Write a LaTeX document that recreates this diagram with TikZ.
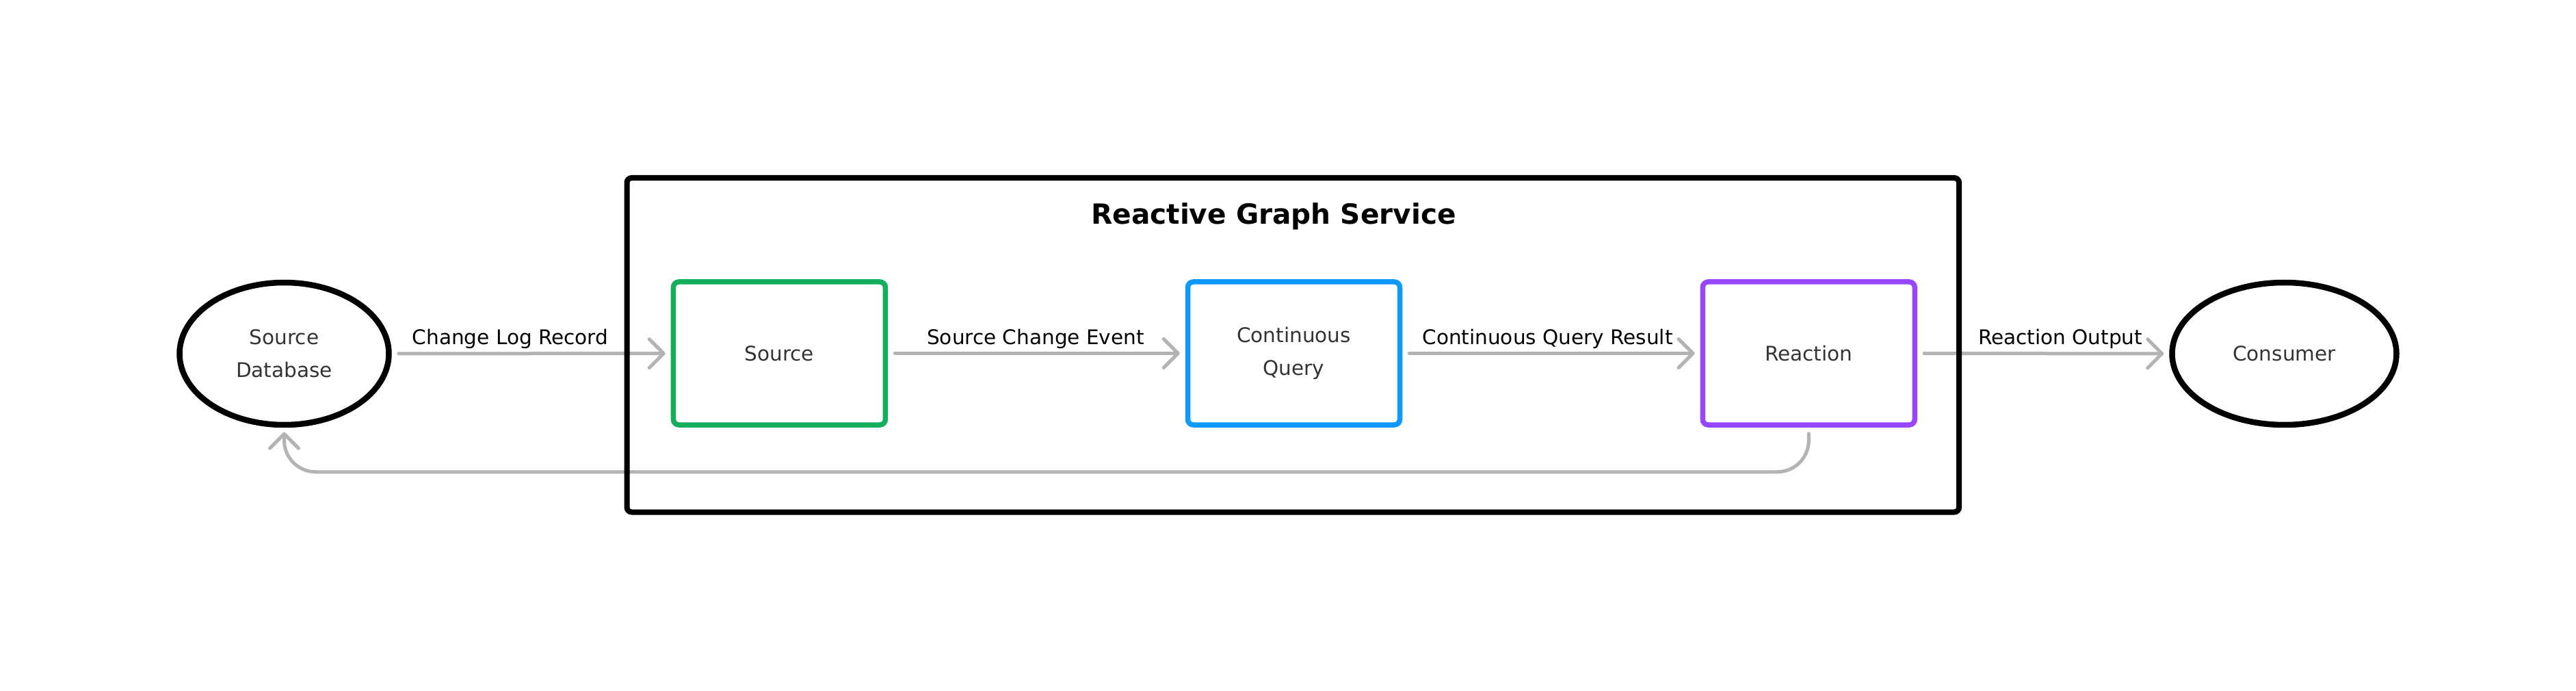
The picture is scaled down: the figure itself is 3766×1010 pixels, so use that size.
\documentclass[tikz,border=0pt]{standalone}
\usepackage{fontspec}
\setmainfont{DejaVu Sans}
\usetikzlibrary{shapes.geometric, arrows.meta}
\definecolor{fgreen}{HTML}{14AE5C}
\definecolor{fblue}{HTML}{0D99FF}
\definecolor{fpurple}{HTML}{9747FF}
\definecolor{fgray}{HTML}{B3B3B3}
\definecolor{ftext}{HTML}{333333}
\newcommand\dgfont{\fontsize{14.75pt}{24pt}\selectfont}
\newcommand\dgtitlefont{\fontsize{20.3pt}{24pt}\selectfont\bfseries}
\begin{document}
\begin{tikzpicture}[x=0.5pt, y=-0.5pt,
  terminal/.style={ellipse, draw=black, line width=4.25pt, minimum height=104pt,
    inner sep=0pt, text=ftext, font=\dgfont, align=center},
  stage/.style={rectangle, draw, rounded corners=4pt, line width=3.75pt,
    minimum width=155pt, minimum height=104.5pt, inner sep=0pt,
    text=ftext, font=\dgfont, align=center},
  flow/.style={draw=fgray, line width=2.5pt, line cap=round,
    -{Straight Barb[round, length=10.5pt, width=21pt]}},
  fwd/.style={flow, shorten <=5pt, shorten >=4pt},
  lbl/.style={anchor=base, font=\dgfont, text=black, inner sep=0pt}]
\useasboundingbox (0,0) rectangle (3766,1010);

% terminals
\node[terminal, minimum width=153pt] (srcdb) at (415.5,517) {Source\\Database};
\node[terminal, minimum width=164pt] (consumer) at (3339.5,517) {Consumer};

% stages
\node[stage, draw=fgreen] (source) at (1139.4,516.5) {Source};
\node[stage, draw=fblue] (cq) at (1891.5,516.5) {Continuous\\Query};
\node[stage, draw=fpurple] (reaction) at (2644.25,516.5) {Reaction};

% title
\node[anchor=base, font=\dgtitlefont, text=black, inner sep=0pt] (title) at (1862,328) {Reactive Graph Service};

% forward connectors
\draw[fwd] (srcdb) -- (source);
\draw[fwd] (source) -- (cq);
\draw[fwd] (cq) -- (reaction);
\draw[fwd] (reaction) -- (consumer);

% labels
\node[lbl] (l1) at (746,503.3) {Change Log Record};
\node[lbl] (l2) at (1514,503.3) {Source Change Event};
\node[lbl] (l3) at (2262.5,503.3) {Continuous Query Result};
\node[lbl] (l4) at (3012,503.3) {Reaction Output};

% return connector
\draw[flow, rounded corners=23pt] ([yshift=-4.5pt]reaction.south) -- ++(0,56) -| ([yshift=-3.25pt]srcdb.south);

% service container
\node[draw=black, line width=4pt, rounded corners=3.5pt, minimum width=973.75pt,
  minimum height=244.25pt, inner sep=0pt] (svc) at (1890.25,504.25) {};
\end{tikzpicture}
\end{document}
